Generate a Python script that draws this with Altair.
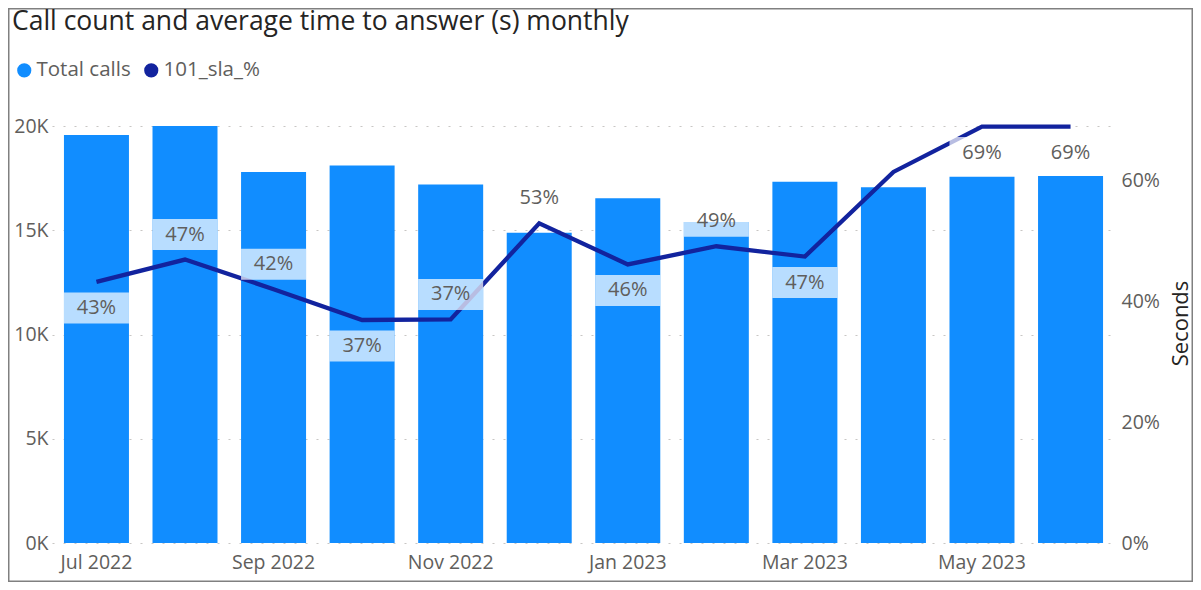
import altair as alt
import pandas as pd

title_text = "Call count and average time to answer (s) monthly"
months = ["Jul 2022", "Aug 2022", "Sep 2022", "Oct 2022", "Nov 2022", "Dec 2022",
          "Jan 2023", "Feb 2023", "Mar 2023", "Apr 2023", "May 2023", "Jun 2023"]
total_calls = [19570, 20000, 17790, 18100, 17200, 14880, 16530, 15400, 17330, 17060, 17570, 17600]
sla_pct = [0.432, 0.469, 0.420, 0.369, 0.370, 0.529, 0.461, 0.491, 0.474, 0.614, 0.689, 0.689]
label_side = ["below", "above", "above", "below", "above", "above",
              "below", "above", "below", "none", "below", "below"]
x_tick_labels = ["Jul 2022", "Sep 2022", "Nov 2022", "Jan 2023", "Mar 2023", "May 2023"]
left_ticks = [0, 5000, 10000, 15000, 20000]
right_ticks = [0, 0.2, 0.4, 0.6]
series_names = ["Total calls", "101_sla_%"]

FONT = "Open Sans"
GREY = "#605E5C"
DARK = "#252423"
BAR = "#118DFF"
LINE = "#12239E"

df = pd.DataFrame({"month": months, "calls": total_calls, "sla": sla_pct, "side": label_side})

xscale = alt.Scale(paddingInner=0.266, paddingOuter=0.135)
x_axis_def = alt.Axis(values=x_tick_labels, title=None, labelAngle=0, domain=False,
                      ticks=False, labelColor=GREY, labelFontSize=19.5, labelFont=FONT,
                      labelPadding=10)
x_enc = alt.X("month:N", sort=months, scale=xscale, axis=x_axis_def)

bars = alt.Chart(df).transform_calculate(series="'Total calls'").mark_bar(color=BAR).encode(
    x=x_enc,
    y=alt.Y("calls:Q", scale=alt.Scale(domain=[0, 20000], nice=False),
            axis=alt.Axis(values=left_ticks, labelExpr="datum.value / 1000 + 'K'", title=None,
                          grid=True, gridDash=[2, 9], gridColor="#C8C6C4", gridWidth=1.2,
                          domain=False, ticks=False, labelPadding=4, labelColor=GREY,
                          labelFontSize=19.5, labelFont=FONT)),
    color=alt.Color("series:N",
                    scale=alt.Scale(domain=series_names, range=[BAR, LINE]),
                    legend=alt.Legend(orient="none", legendX=-38, legendY=-66,
                                      direction="horizontal", title=None,
                                      symbolType="circle", symbolSize=200,
                                      symbolStrokeWidth=0, labelFontSize=20.5,
                                      labelFont=FONT, labelColor=GREY, labelOffset=2,
                                      columnPadding=10)),
)

sla_scale = alt.Scale(domain=[0, 0.69], nice=False)
sla_axis_def = alt.Axis(orient="right", format=".0%", values=right_ticks, title="Seconds",
                        grid=False, domain=False, ticks=False, labelPadding=6,
                        labelColor=GREY, labelFontSize=19.5, labelFont=FONT,
                        titleFont=FONT, titleFontSize=22, titleFontWeight="normal",
                        titleColor=DARK, titleAngle=270, titleBaseline="top",
                        titlePadding=11, titleY=197)
y_sla = alt.Y("sla:Q", scale=sla_scale, axis=sla_axis_def)

line = alt.Chart(df).mark_line(color=LINE, strokeWidth=4.3).encode(x=x_enc, y=y_sla)

above = alt.Chart(df).transform_filter("datum.side == 'above'")
below = alt.Chart(df).transform_filter("datum.side == 'below'")

box_above = above.mark_rect(color="white", opacity=0.7, yOffset=-40.5, y2Offset=-9.5).encode(
    x=x_enc, y=y_sla, y2=alt.Y2("sla:Q"))
box_below = below.mark_rect(color="white", opacity=0.7, yOffset=10.5, y2Offset=41.5).encode(
    x=x_enc, y=y_sla, y2=alt.Y2("sla:Q"))

txt_above = above.mark_text(dy=-25, baseline="middle", font=FONT, fontSize=20, color=GREY).encode(
    x=x_enc, y=y_sla, text=alt.Text("sla:Q", format=".0%"))
txt_below = below.mark_text(dy=26, baseline="middle", font=FONT, fontSize=20, color=GREY).encode(
    x=x_enc, y=y_sla, text=alt.Text("sla:Q", format=".0%"))

sla_layer = alt.layer(line, box_above, box_below, txt_above, txt_below)

frame = alt.Chart(pd.DataFrame({"frame": [0]})).mark_rect(
    fill=None, fillOpacity=0, stroke="#808080", strokeWidth=1.5
).encode(
    x=alt.value(-43.25), x2=alt.value(1140.25), y=alt.value(-117.25), y2=alt.value(455.25)
)

title_mark = alt.Chart(pd.DataFrame({"title": [title_text]})).mark_text(
    align="left", baseline="alphabetic", font=FONT, fontSize=26.5, color=DARK
).encode(
    x=alt.value(-40), y=alt.value(-96), text="title:N"
)

chart = alt.layer(bars, sla_layer, frame, title_mark).resolve_scale(y="independent").properties(
    width=1063,
    height=417,
    autosize=alt.AutoSizeParams(type="none"),
    padding={"left": 44, "top": 118, "right": 78, "bottom": 39},
).configure_view(stroke=None)

chart.save("out.html", embed_options={"renderer": "svg", "actions": False})
